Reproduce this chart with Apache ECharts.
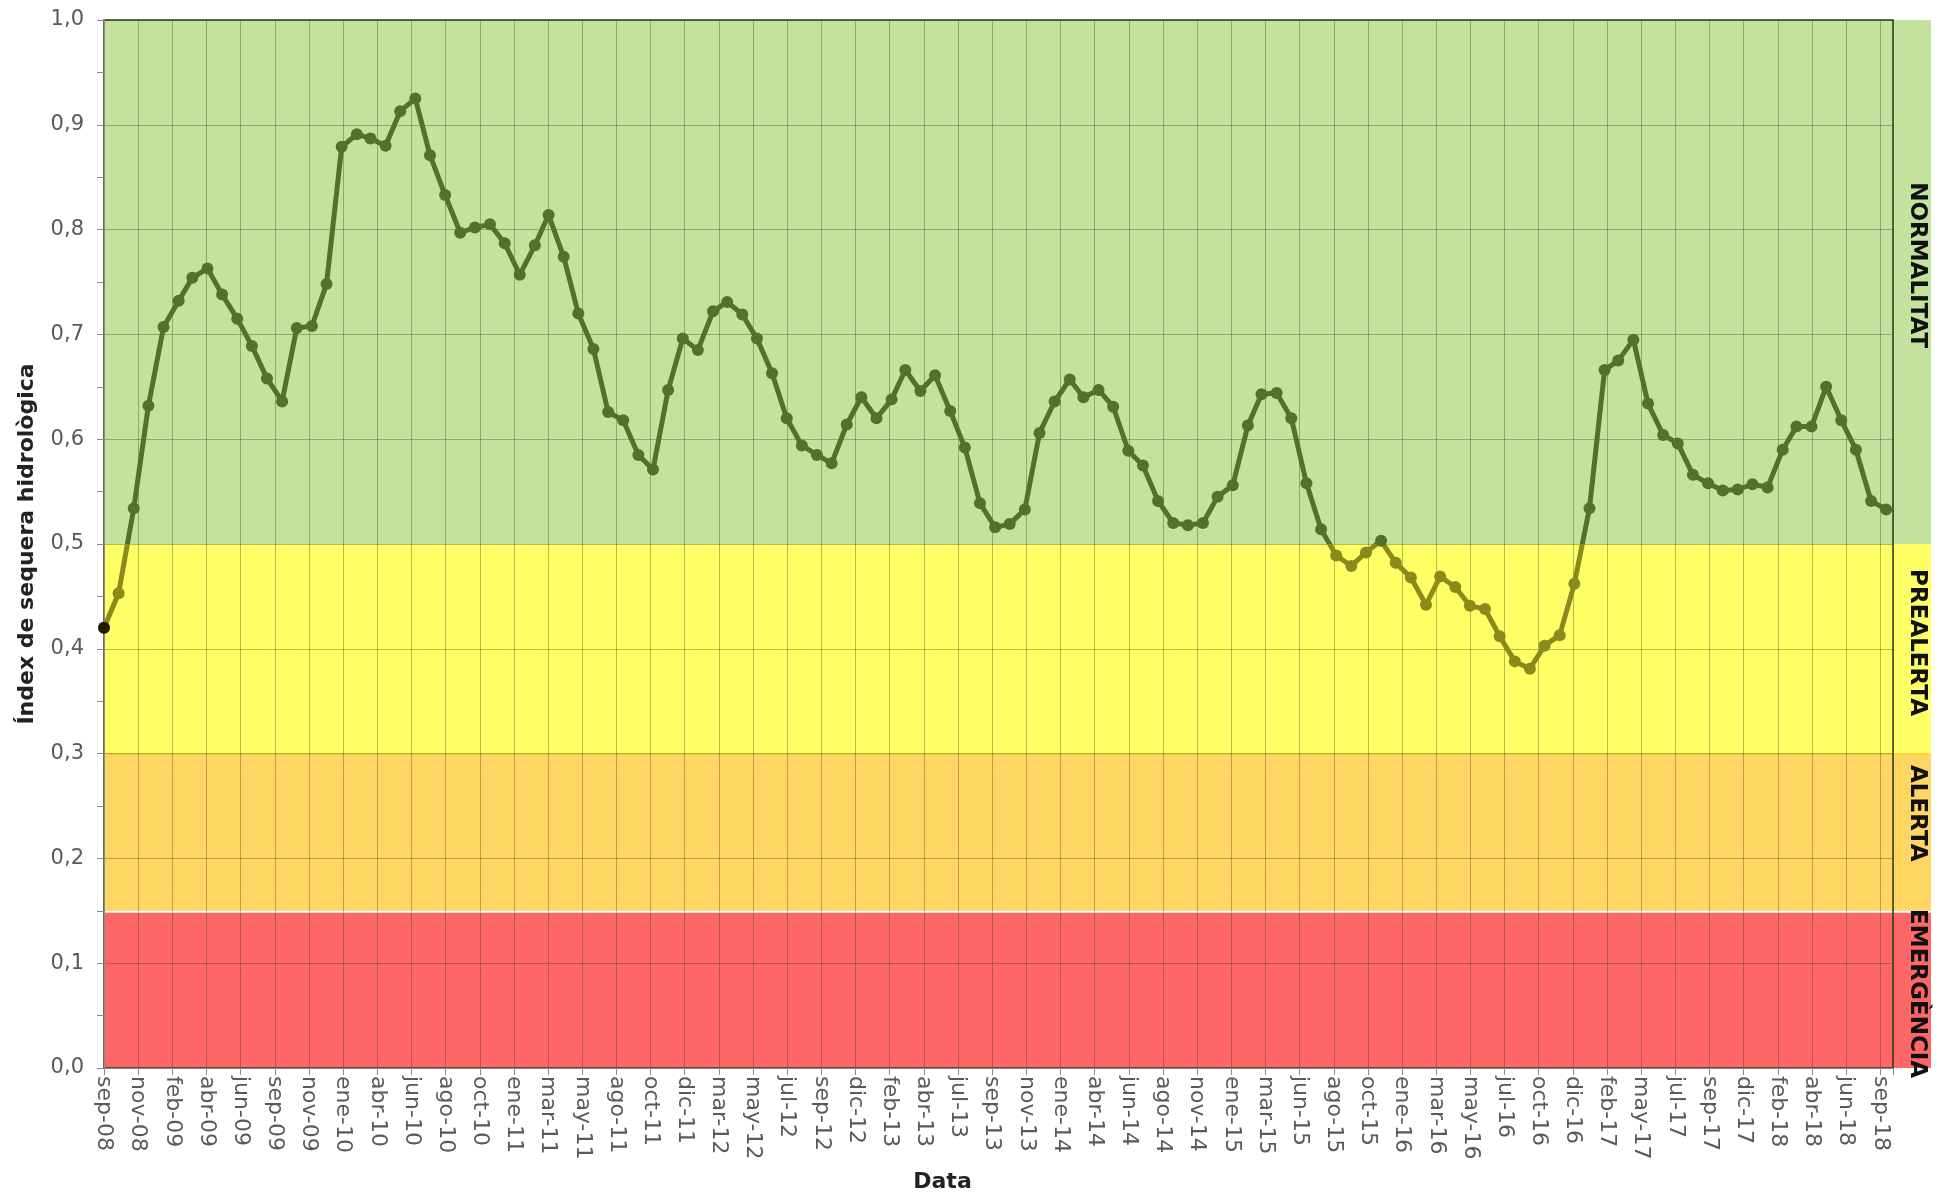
<!DOCTYPE html>
<html><head><meta charset="utf-8">
<script src="https://cdn.jsdelivr.net/npm/echarts@6/dist/echarts.min.js"></script>
<style>html,body{margin:0;padding:0;background:#fff}#c{width:1944px;height:1198px}</style>
</head><body><div id="c"></div>
<script>
// Date-axis tick labels (one tick every 70 days from 19-sep-2008)
const tickLabels = ['sep-08','nov-08','feb-09','abr-09','jun-09','sep-09','nov-09','ene-10','abr-10','jun-10','ago-10','oct-10','ene-11','mar-11','may-11','ago-11','oct-11','dic-11','mar-12','may-12','jul-12','sep-12','dic-12','feb-13','abr-13','jul-13','sep-13','nov-13','ene-14','abr-14','jun-14','ago-14','nov-14','ene-15','mar-15','jun-15','ago-15','oct-15','ene-16','mar-16','may-16','jul-16','oct-16','dic-16','feb-17','may-17','jul-17','sep-17','dic-17','feb-18','abr-18','jun-18','sep-18'];
const tickDays = 70;
const axisEndDays = 3666;
// Monthly readings starting 19-sep-2008 through sep-2018
const firstYear = 2008, firstMonth = 8, readingDay = 19;
const values = [
 0.420,0.453,0.534,0.632,0.707,0.732,0.754,0.763,0.738,0.715,
 0.689,0.658,0.636,0.706,0.708,0.748,0.879,0.891,0.887,0.880,
 0.913,0.925,0.871,0.833,0.797,0.802,0.805,0.787,0.757,0.785,
 0.814,0.774,0.720,0.686,0.626,0.618,0.585,0.571,0.647,0.696,
 0.685,0.722,0.731,0.719,0.696,0.663,0.620,0.594,0.585,0.577,
 0.614,0.640,0.620,0.638,0.666,0.646,0.661,0.627,0.592,0.539,
 0.516,0.519,0.533,0.606,0.636,0.657,0.640,0.647,0.631,0.589,
 0.575,0.541,0.520,0.518,0.520,0.545,0.556,0.613,0.643,0.644,
 0.620,0.558,0.514,0.489,0.479,0.492,0.503,0.482,0.468,0.442,
 0.469,0.459,0.441,0.438,0.412,0.388,0.381,0.403,0.413,0.462,
 0.534,0.666,0.675,0.695,0.634,0.604,0.596,0.566,0.558,0.551,
 0.552,0.557,0.554,0.590,0.612,0.612,0.650,0.618,0.590,0.541,
 0.533];
// Drought state bands
const bandFrom = [0, 0.15, 0.30, 0.50];
const bandTo   = [0.15, 0.30, 0.50, 1.0];
const bandNames = ['EMERGÈNCIA','ALERTA','PREALERTA','NORMALITAT'];
const bandColors = ['#ff6767','#ffd664','#ffff66','#c3e29d'];
const bandLabelAt = [0.071, 0.243, 0.406, 0.766];

const DAY = 86400000;
const t0 = Date.UTC(firstYear, firstMonth, readingDay);
const lineData = values.map((v, i) => [(Date.UTC(firstYear, firstMonth + i, readingDay) - t0) / DAY, v]);
const bandData = bandFrom.map((f, i) => [0, f, bandTo[i], i, bandLabelAt[i]]);
const FONT = '"DejaVu Sans", sans-serif';
const GREEN_LINE = '#52722a', OLIVE_LINE = '#8c8a1a';

const chart = echarts.init(document.getElementById('c'), null, {renderer: 'canvas'});
chart.setOption({
  animation: false,
  backgroundColor: '#ffffff',
  grid: {left: 104, right: 51, top: 20, bottom: 128, show: true, borderColor: '#2e3b22', borderWidth: 1.5, backgroundColor: 'transparent'},
  xAxis: {
    type: 'value', min: 0, max: axisEndDays, interval: tickDays,
    name: 'Data', nameLocation: 'middle', nameGap: 103,
    nameTextStyle: {fontFamily: FONT, fontWeight: 'bold', fontSize: 22, color: '#222', padding: [0, 112, 0, 0]},
    axisLine: {show: true, onZero: false, lineStyle: {color: '#8c8c8c', width: 1}},
    axisTick: {show: true, length: 7, lineStyle: {color: '#8c8c8c'}},
    axisLabel: {
      rotate: -90, margin: 8, fontFamily: FONT, fontSize: 22, color: '#595959',
      showMinLabel: true, showMaxLabel: true,
      formatter: function (v) {
        const k = Math.round(v / tickDays);
        return (Math.abs(v - k * tickDays) < 0.01 && tickLabels[k]) ? tickLabels[k] : '';
      }
    },
    splitLine: {show: true, lineStyle: {color: 'rgba(50,70,20,0.36)', width: 1}}
  },
  yAxis: {
    type: 'value', min: 0, max: 1, interval: 0.1,
    name: 'Índex de sequera hidrològica', nameLocation: 'middle', nameGap: 66,
    nameTextStyle: {fontFamily: FONT, fontWeight: 'bold', fontSize: 22, color: '#222'},
    axisLine: {show: true, lineStyle: {color: '#8c8c8c', width: 1}},
    axisTick: {show: true, length: 7, lineStyle: {color: '#8c8c8c'}},
    minorTick: {show: true, splitNumber: 2, length: 7, lineStyle: {color: '#8c8c8c'}},
    axisLabel: {margin: 20, fontFamily: FONT, fontSize: 21, color: '#595959',
      formatter: v => v.toFixed(1).replace('.', ',')},
    splitLine: {show: true, lineStyle: {color: 'rgba(50,70,20,0.36)', width: 1}}
  },
  visualMap: {
    type: 'piecewise', show: false, dimension: 1, seriesIndex: 1,
    pieces: [{gte: 0.5, lte: 1, color: GREEN_LINE}, {gte: 0, lt: 0.5, color: OLIVE_LINE}],
    outOfRange: {color: GREEN_LINE}
  },
  series: [
    {
      type: 'custom', z: -1, clip: false, silent: true,
      encode: {x: 0, y: [1, 2]},
      data: bandData,
      renderItem: function (params, api) {
        const cs = params.coordSys;
        const idx = api.value(3);
        const yTop = api.coord([0, api.value(2)])[1];
        const yBot = api.coord([0, api.value(1)])[1];
        const yLab = api.coord([0, api.value(4)])[1];
        const gapTop = idx === 0 ? 2 : 0;
        const children = [
          {type: 'rect', shape: {x: cs.x, y: yTop + gapTop, width: cs.width + 38, height: yBot - yTop - gapTop},
           style: {fill: bandColors[idx]}},
          {type: 'text', x: cs.x + cs.width + 24, y: yLab, rotation: -Math.PI / 2,
           style: {text: bandNames[idx], fill: '#111', font: 'bold 23px ' + FONT, align: 'center', verticalAlign: 'middle'}}
        ];
        if (idx === 1) {
          children.push({type: 'line', shape: {x1: cs.x, y1: yTop, x2: cs.x + cs.width + 36, y2: yTop},
            style: {stroke: '#f3c300', lineWidth: 2}});
        }
        return {type: 'group', children: children};
      }
    },
    {
      type: 'line', z: 3, data: lineData,
      symbol: 'circle', symbolSize: 12, showSymbol: true,
      lineStyle: {width: 5},
      itemStyle: {borderWidth: 0}
    },
    {
      type: 'scatter', z: 4, data: [lineData[0]], symbol: 'circle', symbolSize: 12,
      itemStyle: {color: '#000'}
    }
  ]
});
</script>
</body></html>
